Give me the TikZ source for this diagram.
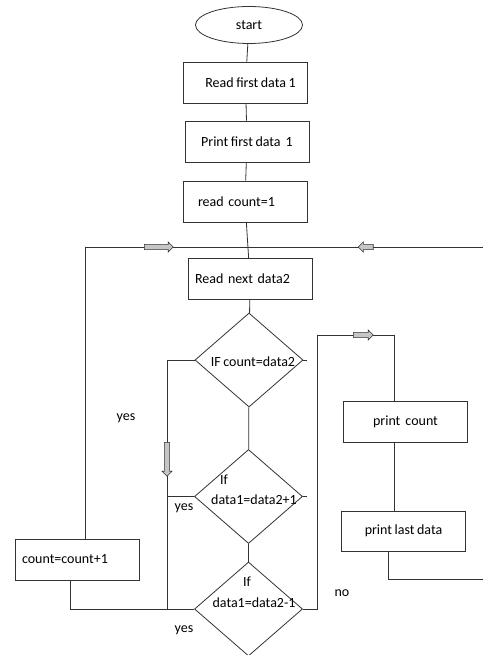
\documentclass[tikz,border=0pt]{standalone}
\usepackage{fontspec}
\setmainfont{Carlito}[WordSpace=0.8]
\usetikzlibrary{shapes.geometric,shapes.arrows}
\begin{document}
\begin{tikzpicture}[x=1pt,y=-1pt,
  line/.style={draw=black!80, line width=.8pt},
  box/.style={line, rectangle, minimum width=124pt, minimum height=41pt, inner sep=0pt},
  lbox/.style={box, text width=110pt, align=left, inner xsep=7pt},
  decision/.style={line, diamond, minimum width=108pt, minimum height=94pt, inner sep=0pt},
  blockarrow/.style={single arrow, draw=black!80, fill=gray!45, line width=.6pt,
    inner sep=2.3pt, single arrow head extend=2.5pt},
  every node/.style={font=\fontsize{14}{16}\selectfont}]
\useasboundingbox (0,0) rectangle (483,655);
% Boxes down the middle
\node[line, ellipse, minimum width=107pt, minimum height=37pt] (start) at (249,25) {start};
\node[box] (readfirst) at (245.5,82.5) {\hspace*{10pt}Read first data 1};
\node[box] (printfirst) at (247,141.5) {Print first data\ \ 1};
\node[lbox] (readcount) at (245,201.5) {\hspace*{8pt}read count=1};
\node[lbox] (readnext) at (250,279) {Read next data2};
% Decisions
\node[decision] (ifcount) at (249,360) {};
\node[decision] (ifplus) at (248.5,496.5) {};
\node[decision] (ifminus) at (248.5,609) {};
\node (tcount) at (253,362) {IF count=data2};
\node (tplusa) at (224,480) {If};
\node (tplusb) at (254,500) {data1=data2+1};
\node (tminusa) at (247,582) {If};
\node (tminusb) at (254,603) {data1=data2-1};
% Side boxes
\node[lbox] (countup) at (77,559.5) {count=count+1};
\node[box] (printcount) at (405.5,421.5) {print\ \ count};
\node[box, minimum height=40pt] (printlast) at (403.5,531) {print last data};
% Corner points of the loops
\coordinate (topleft) at (85,247);
\coordinate (topright) at (483,247);
\coordinate (yesline) at (167,609);
\coordinate (countdown) at (70,609);
\coordinate (noup) at (317,335);
\coordinate (noright) at (394,335);
\coordinate (lastdown) at (388,579);
\coordinate (lastright) at (483,579);
% Connectors
\draw[line] (start) -- (readfirst);
\draw[line] (readfirst) -- (printfirst);
\draw[line] (printfirst) -- (readcount);
\draw[line] (readcount) -- (readnext);
\draw[line] (readnext) -- (ifcount);
\draw[line] (ifcount) -- (ifplus);
\draw[line] (ifplus) -- (ifminus);
\draw[line] (countup.north -| topleft) -- (topleft) -- (topright);
\draw[line] (ifcount.west) -- (ifcount.west -| yesline) -- (yesline);
\draw[line] (ifplus.west) -- (ifplus.west -| yesline);
\draw[line] (countup.south -| countdown) -- (countdown) -- (ifminus.west);
\draw[line] (ifminus.east) -| (noup) -- (noright) -- (printcount.north -| noright);
\draw[line] (printcount.south -| noright) -- (printlast.north -| noright);
\draw[line] (printlast.south -| lastdown) -- (lastdown) -- (lastright);
\draw[line] (ifcount.east) -- ++(4,0);
\draw[line] (ifplus.east) -- ++(4,0);
% Block arrows on the lines
\node[blockarrow, minimum height=29pt] (arrowa) at (157.5,247) {};
\node[blockarrow, minimum height=15pt, shape border rotate=180] (arrowb) at (367,247) {};
\node[blockarrow, minimum height=34pt, shape border rotate=270] (arrowc) at (167,458) {};
\node[blockarrow, minimum height=20pt] (arrowd) at (362,335) {};
% Labels
\node (yesa) at (126,418) {yes};
\node (yesb) at (184,508) {yes};
\node (yesc) at (184,630) {yes};
\node (no) at (342,593) {no};
\end{tikzpicture}
\end{document}
